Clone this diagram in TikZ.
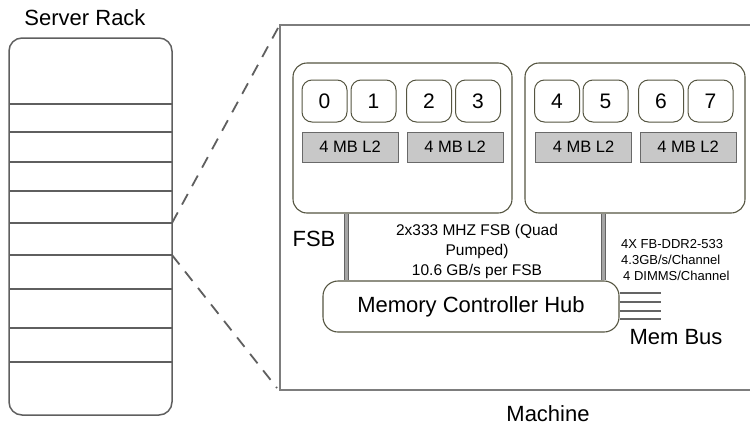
\documentclass[tikz,border=0pt]{standalone}
\usepackage{fontspec}
\setmainfont{Liberation Sans}
\definecolor{rackgray}{RGB}{95,95,95}
\definecolor{boxgray}{RGB}{125,125,125}
\definecolor{olivedk}{RGB}{85,85,65}
\definecolor{l2fill}{RGB}{200,200,200}
\definecolor{l2border}{RGB}{105,105,105}
\definecolor{busdark}{RGB}{100,100,100}
\definecolor{busfill}{RGB}{165,165,165}
\begin{document}
\begin{tikzpicture}[x=1pt,y=-1pt,
  rackline/.style={draw=rackgray, line width=1.5pt},
  dashline/.style={draw=rackgray, line width=1.8pt, dash pattern=on 12pt off 9pt},
  pkg/.style={draw=olivedk, line width=1.1pt, rounded corners=14pt, fill=white, inner sep=0},
  core/.style={draw=olivedk, line width=1pt, rounded corners=10pt, minimum width=45pt, minimum height=42pt, font=\fontsize{21}{21}\selectfont, inner sep=0},
  ltwo/.style={draw=l2border, fill=l2fill, line width=1pt, minimum width=96pt, minimum height=30pt, font=\fontsize{16.5}{17}\selectfont, inner sep=0},
  bus/.style={draw=busdark, double=busfill, line width=1pt, double distance=3pt},
  membus/.style={draw=busdark, line width=1.8pt},
  lbl/.style={font=\fontsize{22}{24}\selectfont, inner sep=0},
]
\useasboundingbox (0,0) rectangle (750,426);

% server rack
\node[lbl] (rtitle) at (85,18) {Server Rack};
\node[draw=rackgray, line width=1.5pt, rounded corners=13pt, minimum width=163pt, minimum height=377pt, inner sep=0] (rack) at (90.5,226.5) {};
\foreach \yy/\nm in {104/r1,132/r2,162/r3,191/r4,223/r5,255/r6,289/r7,328/r8,362/r9}{
  \coordinate (\nm w) at (9,\yy);
  \coordinate (\nm) at (172,\yy);
  \draw[rackline] (\nm w) -- (\nm);
}

% machine box
\coordinate (mtl) at (280,25);
\coordinate (mbl) at (280,390);
\coordinate (mtr) at (751,25);
\coordinate (mbr) at (751,390);
\draw[draw=boxgray, line width=1.5pt] (mtr) -- (mtl) -- (mbl) -- (mbr);

% zoom lines
\coordinate (zt) at (278,28);
\coordinate (zb) at (277,388);
\draw[dashline] (r5) -- (zt);
\draw[dashline] (r6) -- (zb);

% packages
\node[pkg, minimum width=219pt, minimum height=150pt] (pkg1) at (402.5,138) {};
\node[pkg, minimum width=220pt, minimum height=150pt] (pkg2) at (635,138) {};

% cores
\node[core] (c0) at (324.5,101) {0};
\node[core] (c1) at (373.5,101) {1};
\node[core] (c2) at (429,101) {2};
\node[core] (c3) at (478,101) {3};
\node[core] (c4) at (557,101) {4};
\node[core] (c5) at (605.5,101) {5};
\node[core] (c6) at (661,101) {6};
\node[core] (c7) at (710.5,101) {7};

% L2 caches
\node[ltwo] (l2a) at (350,147) {4 MB L2};
\node[ltwo] (l2b) at (455,147) {4 MB L2};
\node[ltwo] (l2c) at (583.5,147) {4 MB L2};
\node[ltwo] (l2d) at (688,147) {4 MB L2};

% memory controller hub
\node[draw=olivedk, line width=1.1pt, rounded corners=15pt, minimum width=296pt, minimum height=51pt, fill=white, inner sep=0, font=\fontsize{22}{24}\selectfont] (mch) at (471,306.5) {Memory Controller Hub};

% FSB bars
\draw[bus] ([xshift=-56.5pt]pkg1.south) -- ([xshift=-56.5pt]pkg1.south |- mch.north);
\draw[bus] ([xshift=-32pt]pkg2.south) -- ([xshift=-32pt]pkg2.south |- mch.north);

% mem bus lines
\foreach \dy in {13.5,4.5,-4.5,-12.5}{
  \draw[membus] ([yshift=\dy pt]mch.east) -- ++(41,0);
}

% labels
\node[lbl] (fsb) at (314,239) {FSB};
\node[inner sep=0, align=center, font=\fontsize{15.5}{20}\selectfont] (fsbtxt) at (477,251) {2x333 MHZ FSB (Quad\\Pumped)\\10.6 GB/s per FSB};
\node[inner sep=0, align=left, anchor=west, font=\fontsize{13}{16}\selectfont] (memtxt) at (621,260) {4X FB-DDR2-533\\4.3GB/s/Channel\\\hspace*{2pt}4 DIMMS/Channel};
\node[lbl] (mbus) at (676,337) {Mem Bus};
\node[lbl] (mach) at (548,414) {Machine};
\end{tikzpicture}
\end{document}
